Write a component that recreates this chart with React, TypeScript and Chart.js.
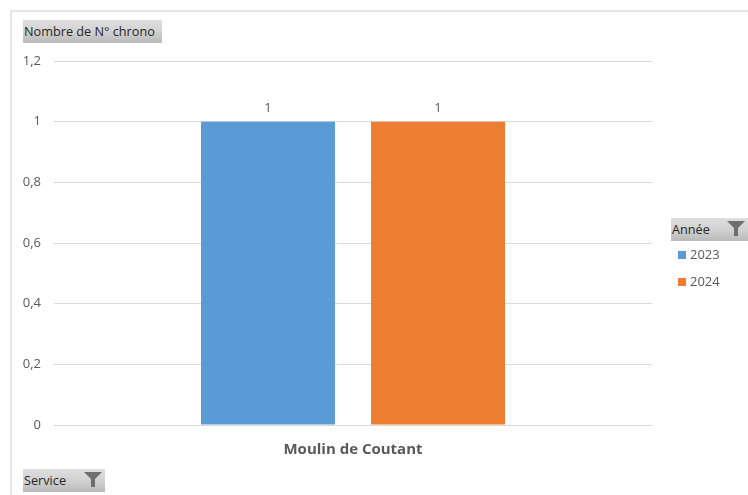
import React, { useEffect, useRef } from "react";
import { Chart, registerables } from "chart.js";

Chart.register(...registerables);

const categories = ["Moulin de Coutant"];
const years = ["2023", "2024"];
const values2023 = [1];
const values2024 = [1];
const seriesColors = ["#5B9BD5", "#ED7D31"];
const valueFieldLabel = "Nombre de N° chrono";
const legendFieldLabel = "Année";
const axisFieldLabel = "Service";

const FONT = '"Open Sans", "Noto Sans", sans-serif';

const dataLabels = {
  id: "dataLabels",
  afterDatasetsDraw(chart: any) {
    const { ctx } = chart;
    ctx.save();
    ctx.font = `13px ${FONT}`;
    ctx.fillStyle = "#595959";
    ctx.textAlign = "center";
    ctx.textBaseline = "bottom";
    chart.data.datasets.forEach((ds: any, i: number) => {
      chart.getDatasetMeta(i).data.forEach((bar: any, j: number) => {
        ctx.fillText(String(ds.data[j]), bar.x, bar.y - 7);
      });
    });
    ctx.restore();
  },
};

const buttonBg = "linear-gradient(to bottom, #dedede 0%, #d2d2d2 50%, #b9b9b9 100%)";

function Funnel({ style }: { style: React.CSSProperties }) {
  return (
    <svg width="18" height="15" viewBox="0 0 18 15" style={{ position: "absolute", ...style }}>
      <path d="M0 0H18L11 7V15H7V7Z" fill="#6f6f6f" />
    </svg>
  );
}

function FieldButton({ label, left, top, width, height, funnel }: any) {
  return (
    <div
      style={{
        position: "absolute",
        left,
        top,
        width,
        height,
        background: buttonBg,
        color: "#262626",
        font: `12.7px ${FONT}`,
        lineHeight: `${height}px`,
        paddingLeft: 1,
        boxSizing: "border-box",
        whiteSpace: "nowrap",
      }}
    >
      {label}
      {funnel ? <Funnel style={{ right: 3, top: 3 }} /> : null}
    </div>
  );
}

export default function App() {
  const ref = useRef<HTMLCanvasElement>(null);

  useEffect(() => {
    document.body.style.margin = "0";
    const chart = new Chart(ref.current!, {
      type: "bar",
      data: {
        labels: categories,
        datasets: [
          { label: years[0], data: values2023, backgroundColor: seriesColors[0] },
          { label: years[1], data: values2024, backgroundColor: seriesColors[1] },
        ],
      },
      options: {
        animation: false,
        responsive: false,
        layout: { padding: { left: 0, top: 61, right: 96, bottom: 32 } },
        plugins: { legend: { display: false }, tooltip: { enabled: false } },
        datasets: { bar: { categoryPercentage: 0.5686, barPercentage: 0.788 } },
        scales: {
          x: {
            grid: { display: false },
            border: { display: false },
            ticks: {
              color: "#595959",
              padding: 8,
              font: { family: FONT, size: 15, weight: "bold" },
            },
            afterFit: (s: any) => {
              s.height = 38;
            },
          },
          y: {
            min: 0,
            max: 1.2,
            grid: { color: "#d9d9d9", drawTicks: false },
            border: { display: false },
            ticks: {
              stepSize: 0.2,
              color: "#595959",
              padding: 13,
              font: { family: FONT, size: 13 },
              callback: (v: any) => String(Number(Number(v).toFixed(1))).replace(".", ","),
            },
            afterFit: (s: any) => {
              s.width = 54;
            },
          },
        },
      } as any,
      plugins: [dataLabels],
    });
    return () => chart.destroy();
  }, []);

  return (
    <div style={{ position: "relative", width: 748, height: 495, overflow: "hidden", background: "#fff" }}>
      <canvas ref={ref} width={748} height={495} style={{ display: "block" }} />
      <div style={{ position: "absolute", left: 10, top: 10, width: 738, height: 485, borderTop: "2px solid #e4e4e4", borderLeft: "2px solid #e4e4e4", boxSizing: "border-box" }} />
      <FieldButton label={valueFieldLabel} left={23} top={20} width={139} height={23} />
      <FieldButton label={axisFieldLabel} left={23} top={469} width={82} height={23} funnel />
      <FieldButton label={legendFieldLabel} left={671} top={218} width={77} height={23} funnel />
      {years.map((y, i) => (
        <div key={y} style={{ position: "absolute", left: 678, top: 245 + i * 27, height: 18, font: `13px ${FONT}`, lineHeight: "18px", color: "#595959", whiteSpace: "nowrap" }}>
          <span style={{ display: "inline-block", width: 8, height: 8, background: seriesColors[i], marginRight: 4 }} />
          {y}
        </div>
      ))}
    </div>
  );
}
